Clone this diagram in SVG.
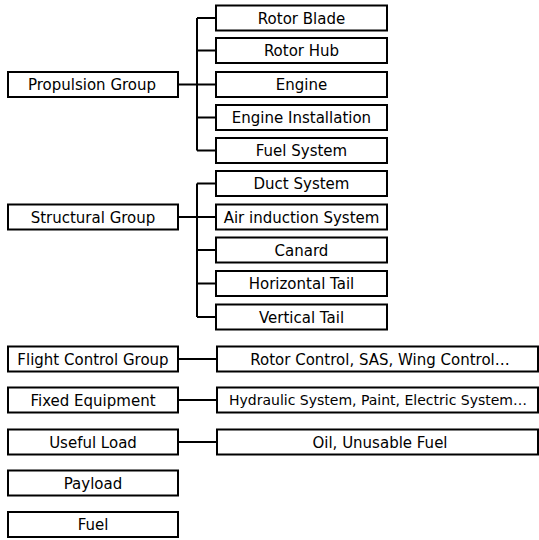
<svg xmlns="http://www.w3.org/2000/svg" width="539" height="540" viewBox="0 0 539 540">
<style>
rect{fill:#fff;stroke:#000;stroke-width:2}
text{font-family:"DejaVu Sans",sans-serif;font-size:15px;text-anchor:middle;fill:#000}
.s{font-size:14px}
.c{fill:none;stroke:#000;stroke-width:2}
</style>
<g id="connectors">
<path class="c" d="M197,18V150.5M197,18H216M197,50.5H216M178,84.5H216M197,117.5H216M197,150.5H216"/>
<path class="c" d="M197,183.5V317M197,183.5H216M178,217H216M197,250H216M197,283.5H216M197,317H216"/>
<path class="c" d="M178,359H217M178,400H217M178,442H217"/>
</g>
<g id="propulsion"><rect x="8" y="72" width="170" height="25"/><text x="92" y="90">Propulsion Group</text></g>
<g id="rotor-blade"><rect x="216" y="5.5" width="171" height="25"/><text x="301.5" y="23.5">Rotor Blade</text></g>
<g id="rotor-hub"><rect x="216" y="38" width="171" height="25"/><text x="301.5" y="56">Rotor Hub</text></g>
<g id="engine"><rect x="216" y="72" width="171" height="25"/><text x="301.5" y="90">Engine</text></g>
<g id="engine-installation"><rect x="216" y="105" width="171" height="25"/><text x="301.5" y="123">Engine Installation</text></g>
<g id="fuel-system"><rect x="216" y="138" width="171" height="25"/><text x="301.5" y="156">Fuel System</text></g>
<g id="structural"><rect x="8" y="204.5" width="170" height="25"/><text x="93" y="222.5">Structural Group</text></g>
<g id="duct-system"><rect x="216" y="171" width="171" height="25"/><text x="301.5" y="189">Duct System</text></g>
<g id="air-induction"><rect x="216" y="204.5" width="171" height="25"/><text x="301.5" y="222.5">Air induction System</text></g>
<g id="canard"><rect x="216" y="237.5" width="171" height="25"/><text x="301.5" y="255.5">Canard</text></g>
<g id="horizontal-tail"><rect x="216" y="271" width="171" height="25"/><text x="301.5" y="289">Horizontal Tail</text></g>
<g id="vertical-tail"><rect x="216" y="304.5" width="171" height="25"/><text x="301.5" y="322.5">Vertical Tail</text></g>
<g id="flight-control"><rect x="8" y="346.5" width="170" height="25"/><text x="93" y="364.5">Flight Control Group</text></g>
<g id="flight-control-items"><rect x="217" y="346.5" width="321" height="25"/><text x="380" y="364.5">Rotor Control, SAS, Wing Control…</text></g>
<g id="fixed-equipment"><rect x="8" y="387.5" width="170" height="25"/><text x="93" y="405.5">Fixed Equipment</text></g>
<g id="fixed-equipment-items"><rect x="217" y="387.5" width="321" height="25"/><text class="s" x="378" y="405">Hydraulic System, Paint, Electric System…</text></g>
<g id="useful-load"><rect x="8" y="429.5" width="170" height="25"/><text x="93" y="447.5">Useful Load</text></g>
<g id="useful-load-items"><rect x="217" y="429.5" width="321" height="25"/><text x="380" y="447.5">Oil, Unusable Fuel</text></g>
<g id="payload"><rect x="8" y="470.5" width="170" height="25"/><text x="93" y="488.5">Payload</text></g>
<g id="fuel"><rect x="8" y="512" width="170" height="25"/><text x="93" y="530">Fuel</text></g>
</svg>
